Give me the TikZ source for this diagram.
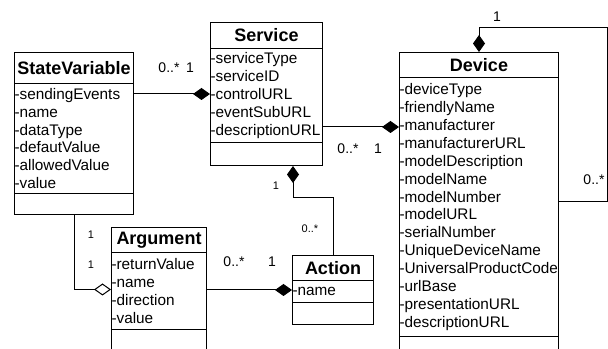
\documentclass[tikz,border=0pt]{standalone}
\usepackage{fontspec}
\setmainfont{Liberation Sans}
\usetikzlibrary{shapes.multipart,arrows.meta}

\tikzset{every picture/.style={line width=0.75pt}}
\tikzset{
  umlclass/.style={draw, fill=white, rectangle split, rectangle split parts=3,
    inner sep=0pt, anchor=north west, font=\fontsize{11.5}{13.4}\selectfont},
  has/.style={-{Diamond[length=12.75pt,width=9pt]}},
  agg/.style={-{Diamond[open,length=12.75pt,width=9pt]}},
  mult/.style={inner sep=0.75pt, font=\fontsize{10.5}{12}\selectfont},
  smallmult/.style={inner sep=0.75pt, font=\fontsize{8.25}{10}\selectfont},
}
% class compartments: width, height, text
\newcommand{\cname}[3]{\parbox[b][#2][c]{#1}{\centering\fontsize{13.5}{16}\selectfont\bfseries #3}}
\newcommand{\compart}[3]{\parbox[b][#2][c]{#1}{\raggedright #3}}

\begin{document}
\begin{tikzpicture}[x=0.75pt,y=0.75pt,yscale=-1,xscale=1]
\path[use as bounding box, clip] (0,0) rectangle (608,349);

%Shape: Class [id:sv]
\node[umlclass] (sv) at (14,52) {\cname{89.25pt}{22.5pt}{StateVariable}
  \nodepart{two}\compart{89.25pt}{81.75pt}{-sendingEvents\\-name\\-dataType\\-defautValue\\-allowedValue\\-value}
  \nodepart{three}\compart{89.25pt}{15pt}{}};
%Shape: Class [id:srv]
\node[umlclass] (srv) at (210,22) {\cname{84pt}{18.75pt}{Service}
  \nodepart{two}\compart{84pt}{69.75pt}{-serviceType\\-serviceID\\-controlURL\\-eventSubURL\\-descriptionURL}
  \nodepart{three}\compart{84pt}{16.5pt}{}};
%Shape: Class [id:dev]
\node[umlclass] (dev) at (399,52) {\cname{119.25pt}{18pt}{Device}
  \nodepart{two}\compart{119.25pt}{193.5pt}{-deviceType\\-friendlyName\\-manufacturer\\-manufacturerURL\\-modelDescription\\-modelName\\-modelNumber\\-modelURL\\-serialNumber\\-UniqueDeviceName\\-UniversalProductCode\\-urlBase\\-presentationURL\\-descriptionURL}
  \nodepart{three}\compart{119.25pt}{22.5pt}{}};
%Shape: Class [id:arg]
\node[umlclass] (arg) at (111,227) {\cname{71.25pt}{18pt}{Argument}
  \nodepart{two}\compart{71.25pt}{57pt}{-returnValue\\-name\\-direction\\-value}
  \nodepart{three}\compart{71.25pt}{15.75pt}{}};
%Shape: Class [id:act]
\node[umlclass] (act) at (292,255) {\cname{60.75pt}{18pt}{Action}
  \nodepart{two}\compart{60.75pt}{15.75pt}{-name}
  \nodepart{three}\compart{60.75pt}{15.75pt}{}};

%Straight Lines
\coordinate (link) at (360,127);
\coordinate (loop) at (607,202);
\coordinate (looptop) at (607,28);
\coordinate (bend) at (293,198);
\draw[has] (sv.east |- srv.west) -- (srv.west);
\draw[has] (link -| srv.east) -- (link -| dev.west);
\draw[has] (loop -| dev.east) -- (loop) -- (looptop) -| (dev.north);
\draw[has] (act.north) |- (bend) -- (bend |- srv.south);
\draw[agg] (sv.south) |- (arg.west);
\draw[has] (arg.east |- act.west) -- (act.west);

% Text Node
\node[mult] (m1) at (169,68) {0..*};
\node[mult] (m2) at (190,68) {1};
\node[mult] (m3) at (348,149) {0..*};
\node[mult] (m4) at (378,149) {1};
\node[mult] (m5) at (497,17) {1};
\node[mult, anchor=east] (m6) at (606,180) {0..*};
\node[smallmult] (m7) at (276,186) {1};
\node[smallmult] (m8) at (310,229) {0..*};
\node[smallmult] (m9) at (91,235) {1};
\node[smallmult] (m10) at (91,265) {1};
\node[mult] (m11) at (234,262) {0..*};
\node[mult] (m12) at (272,262) {1};

\end{tikzpicture}
\end{document}
